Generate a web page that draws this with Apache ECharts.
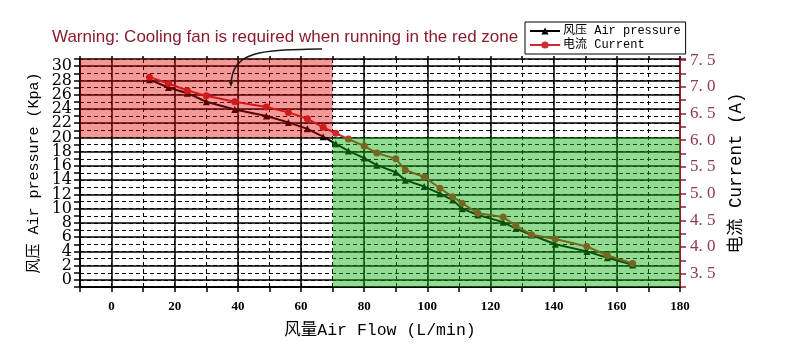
<!DOCTYPE html>
<html>
<head>
<meta charset="utf-8">
<script src="https://cdn.jsdelivr.net/npm/echarts@6/dist/echarts.min.js"></script>
<style>html,body{margin:0;padding:0;background:#fff}#c{width:785px;height:364px}</style>
</head>
<body>
<div id="c"></div>
<script>
// ---- data ----
const flow = [12, 18, 24, 30, 39, 49, 56, 62, 67, 71, 75, 80, 84, 90, 93, 99, 104, 108, 111, 116, 124, 128, 133, 140.5, 150.5, 157, 165];
const pressure = [28.1, 27.0, 26.2, 25.0, 23.9, 23.0, 22.1, 21.2, 20.1, 19.1, 18.1, 17.1, 16.1, 15.1, 14.0, 13.1, 12.1, 11.2, 10.0, 9.1, 8.1, 7.2, 6.3, 5.0, 4.0, 3.1, 2.1];
const current = [7.18, 7.06, 6.93, 6.83, 6.72, 6.62, 6.52, 6.40, 6.24, 6.13, 6.02, 5.89, 5.76, 5.65, 5.44, 5.31, 5.10, 4.94, 4.82, 4.63, 4.56, 4.40, 4.23, 4.15, 4.01, 3.84, 3.69];
const seriesNames = ['风压 Air pressure', '电流 Current'];
const xRange = [-10, 180];
const yLeftRange = [-1, 31];
const yRightRange = [3.25, 7.52];
const redZone = { x: [-10, 70], y: [20, 31] };
const greenZone = { x: [70, 180], y: [-1, 20] };
const xMajor = [0, 20, 40, 60, 80, 100, 120, 140, 160];
const yMajor = [0, 2, 4, 6, 8, 10, 12, 14, 16, 18, 20, 22, 24, 26, 28, 30];
const warningText = 'Warning: Cooling fan is required when running in the red zone';
const xName = '风量Air Flow (L/min)';
const yLeftName = '风压 Air pressure (Kpa)';
const yRightName = '电流 Current (A)';

const mono = '"Liberation Mono", "Noto Sans CJK SC", monospace';
const chart = echarts.init(document.getElementById('c'), null, { renderer: 'canvas' });

const pData = flow.map((x, i) => [x, pressure[i]]);
const cData = flow.map((x, i) => [x, current[i]]);

const majorLines = xMajor.map(v => ({ xAxis: v })).concat(yMajor.map(v => ({ yAxis: v })));

const option = {
  animation: false,
  grid: { left: 80, right: 105, top: 59, bottom: 77 },
  legend: {
    data: seriesNames,
    orient: 'vertical',
    left: 525, top: 22,
    itemWidth: 30, itemHeight: 9, itemGap: 2,
    padding: [3, 5, 3, 4],
    borderColor: '#000', borderWidth: 1, backgroundColor: '#fff',
    textStyle: { fontFamily: mono, fontSize: 12, color: '#000', padding: [0, 0, 0, -2] }
  },
  xAxis: [{
    type: 'value', min: xRange[0], max: xRange[1], interval: 10,
    name: xName, nameLocation: 'middle', nameGap: 35, nameMoveOverlap: false,
    nameTextStyle: { fontFamily: mono, fontSize: 16.5, color: '#000' },
    axisLine: { onZero: false, lineStyle: { color: '#000', width: 2 } },
    axisTick: { inside: false, length: 5, lineStyle: { color: '#000', width: 1.5 } },
    axisLabel: {
      margin: 13, fontFamily: '"Liberation Serif", serif', fontWeight: 'bold', fontSize: 13, color: '#000',
      formatter: v => (v % 20 === 0 ? String(v) : '')
    },
    splitLine: { show: true, lineStyle: { color: '#000', width: 1, type: [4, 3] } }
  }, {
    type: 'value', position: 'top', min: xRange[0], max: xRange[1], interval: 10,
    axisLine: { onZero: false, lineStyle: { color: '#000', width: 1.5 } },
    axisTick: { length: 3, lineStyle: { color: '#000', width: 1.5 } },
    axisLabel: { show: false }, splitLine: { show: false }
  }],
  yAxis: [{
    type: 'value', position: 'left', min: yLeftRange[0], max: yLeftRange[1], interval: 1,
    name: yLeftName, nameLocation: 'middle', nameGap: 38, nameRotate: 90, nameMoveOverlap: false,
    nameTextStyle: { fontFamily: mono, fontSize: 15, color: '#000' },
    axisLine: { onZero: false, lineStyle: { color: '#000', width: 2 } },
    axisTick: { length: 6, lineStyle: { color: '#000', width: 1.5 } },
    axisLabel: {
      margin: 8, fontFamily: '"DejaVu Serif", serif', fontSize: 16, color: '#000',
      formatter: v => (v >= 0 && v % 2 === 0 ? String(v) : '')
    },
    splitLine: { show: true, lineStyle: { color: '#000', width: 1, type: [4, 3] } }
  }, {
    type: 'value', position: 'right', min: yRightRange[0], max: yRightRange[1], interval: 0.25,
    name: yRightName, nameLocation: 'middle', nameGap: 48, nameRotate: 90, nameMoveOverlap: false,
    nameTextStyle: { fontFamily: mono, fontSize: 17.5, color: '#000' },
    axisLine: { onZero: false, lineStyle: { color: '#8B1E2A', width: 2 } },
    axisTick: { length: 6, lineStyle: { color: '#8B1E2A', width: 1.5 } },
    axisLabel: {
      margin: 10, fontFamily: '"Liberation Serif", serif', fontSize: 17, color: '#8E3A48',
      formatter: v => (Math.abs(v * 2 - Math.round(v * 2)) < 1e-6 ? v.toFixed(1).replace('.', '. ') : '')
    },
    splitLine: { show: false }
  }],
  series: [
    {
      name: 'zones', type: 'line', data: [], xAxisIndex: 0, yAxisIndex: 0, silent: true,
      markLine: {
        silent: true, z: 1, symbol: ['none', 'none'], label: { show: false },
        lineStyle: { color: '#000', width: 1.5, type: 'solid' },
        emphasis: { disabled: true },
        data: majorLines
      },
      markArea: {
        silent: true, z: 10,
        data: [
          [{ xAxis: redZone.x[0], yAxis: redZone.y[0], itemStyle: { color: 'rgba(222,0,0,0.40)' } },
           { xAxis: redZone.x[1], yAxis: redZone.y[1] }],
          [{ xAxis: greenZone.x[0], yAxis: greenZone.y[0], itemStyle: { color: 'rgba(20,175,20,0.46)' } },
           { xAxis: greenZone.x[1], yAxis: greenZone.y[1] }]
        ]
      }
    },
    {
      name: seriesNames[0], type: 'line', data: pData, xAxisIndex: 0, yAxisIndex: 0, z: 3,
      symbol: 'triangle', symbolSize: 7, showAllSymbol: true,
      lineStyle: { color: '#000', width: 2 }, itemStyle: { color: '#000' }
    },
    {
      name: seriesNames[1], type: 'line', data: cData, xAxisIndex: 0, yAxisIndex: 1, z: 4,
      symbol: 'circle', symbolSize: 7, showAllSymbol: true,
      lineStyle: { color: '#CC2A2E', width: 2 }, itemStyle: { color: '#CC2A2E' }
    }
  ],
  graphic: [
    {
      type: 'text', left: 52, top: 29, z: 100,
      style: { text: warningText, fill: '#8A1C30', font: '17px "Liberation Sans", Arial, sans-serif' }
    },
    {
      type: 'bezierCurve', z: 100,
      shape: { x1: 322, y1: 49, cpx1: 262, cpy1: 50, cpx2: 232, cpy2: 50, x2: 231, y2: 85 },
      style: { stroke: '#1a1a1a', lineWidth: 1.5, fill: null }
    },
    {
      type: 'polygon', z: 100,
      shape: { points: [[229, 82], [233, 82], [231, 87]] },
      style: { fill: '#1a1a1a' }
    }
  ]
};
chart.setOption(option);
</script>
</body>
</html>
